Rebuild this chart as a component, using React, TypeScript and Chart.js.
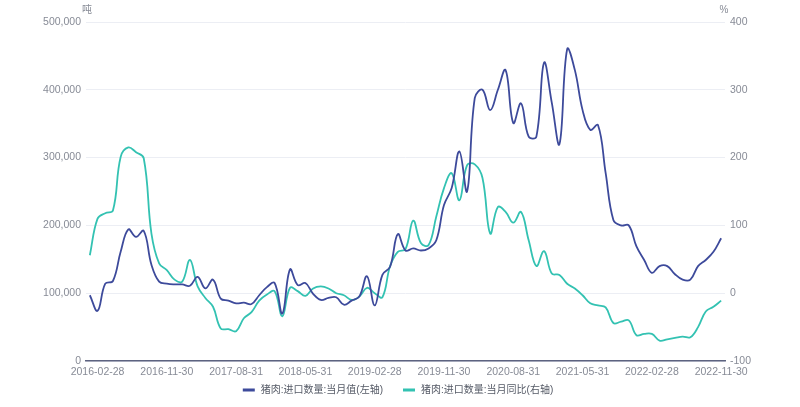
import React, { useEffect, useRef } from "react";
import { Chart, registerables } from "chart.js";

Chart.register(...registerables);

const categories: string[] = [
  "2016-01-31","2016-02-28","2016-03-31","2016-04-30","2016-05-31","2016-06-30","2016-07-31","2016-08-31","2016-09-30","2016-10-31","2016-11-30","2016-12-31",
  "2017-01-31","2017-02-28","2017-03-31","2017-04-30","2017-05-31","2017-06-30","2017-07-31","2017-08-31","2017-09-30","2017-10-31","2017-11-30","2017-12-31",
  "2018-01-31","2018-02-28","2018-03-31","2018-04-30","2018-05-31","2018-06-30","2018-07-31","2018-08-31","2018-09-30","2018-10-31","2018-11-30","2018-12-31",
  "2019-01-31","2019-02-28","2019-03-31","2019-04-30","2019-05-31","2019-06-30","2019-07-31","2019-08-31","2019-09-30","2019-10-31","2019-11-30","2019-12-31",
  "2020-01-31","2020-02-28","2020-03-31","2020-04-30","2020-05-31","2020-06-30","2020-07-31","2020-08-31","2020-09-30","2020-10-31","2020-11-30","2020-12-31",
  "2021-01-31","2021-02-28","2021-03-31","2021-04-30","2021-05-31","2021-06-30","2021-07-31","2021-08-31","2021-09-30","2021-10-31","2021-11-30","2021-12-31",
  "2022-01-31","2022-02-28","2022-03-31","2022-04-30","2022-05-31","2022-06-30","2022-07-31","2022-08-31","2022-09-30","2022-10-31","2022-11-30",
];

const shownTickLabels: string[] = [
  "2016-02-28","2016-11-30","2017-08-31","2018-05-31","2019-02-28",
  "2019-11-30","2020-08-31","2021-05-31","2022-02-28","2022-11-30",
];

const importVolume: number[] = [
  97000, 74000, 114000, 118000, 161000, 194000, 183000, 192000, 142000, 117000,
  114000, 113000, 113000, 111000, 124000, 107000, 120000, 92000, 89000, 85000,
  86000, 84000, 97000, 109000, 115000, 70000, 135000, 112000, 115000, 99000,
  90000, 93000, 94000, 83000, 89000, 95000, 125000, 82000, 127000, 139000,
  187000, 163000, 166000, 163000, 166000, 178000, 230000, 255000, 309000, 250000,
  388000, 400000, 370000, 400000, 429000, 351000, 380000, 331000, 331000, 440000,
  381000, 320000, 460000, 429000, 370000, 341000, 348000, 277000, 208000, 200000,
  200000, 169000, 149000, 130000, 140000, 140000, 128000, 120000, 120000, 140000,
  149000, 161000, 181000,
];

const importYoY: number[] = [
  56, 110, 118, 122, 201, 215, 208, 199, 88, 44,
  34, 20, 17, 49, 10, -7, -20, -52, -53, -56,
  -37, -28, -11, -2, 3, -34, 8, 3, -4, 7,
  10, 7, 0, -3, -10, -5, 8, 0, -6, 40,
  61, 65, 107, 74, 71, 113, 155, 177, 137, 189,
  190, 170, 88, 127, 120, 104, 120, 78, 40, 62,
  29, 27, 14, 7, -3, -15, -18, -21, -44, -42,
  -40, -62, -60, -60, -70, -68, -66, -64, -65, -50,
  -27, -20, -11,
];

const seriesNames = ["猪肉:进口数量:当月值(左轴)", "猪肉:进口数量:当月同比(右轴)"];
const seriesColors = ["#3d4a9b", "#33c2b2"];
const leftUnit = "吨";
const rightUnit = "%";

const TICK_COLOR = "#878b96";
const FONT = "'Liberation Sans', 'Noto Sans CJK SC', sans-serif";
const TICK_SIZE = 10.5;

export default function App() {
  const ref = useRef<HTMLCanvasElement | null>(null);

  useEffect(() => {
    if (!ref.current) return;
    const overlayPlugin = {
      id: "overlayText",
      afterDraw(chart: any) {
        const ctx = chart.ctx;
        const area = chart.chartArea;
        ctx.save();
        ctx.fillStyle = TICK_COLOR;
        ctx.font = `10px ${FONT}`;
        ctx.textAlign = "center";
        ctx.textBaseline = "middle";
        ctx.fillText(leftUnit, area.left + 1, 10);
        ctx.fillText(rightUnit, area.right - 1, 10);
        const boxW = 12;
        const boxGap = 6;
        const itemGap = 20;
        ctx.font = `10px ${FONT}`;
        const widths = seriesNames.map((n) => boxW + boxGap + ctx.measureText(n).width);
        const total = widths.reduce((a, b) => a + b, 0) + itemGap * (widths.length - 1);
        let x = 398 - total / 2;
        const y = 390;
        ctx.textAlign = "left";
        seriesNames.forEach((name, i) => {
          ctx.fillStyle = seriesColors[i];
          ctx.fillRect(x, y - 1.5, boxW, 3);
          ctx.fillStyle = "#555a66";
          ctx.fillText(name, x + boxW + boxGap, y);
          x += widths[i] + itemGap;
        });
        ctx.restore();
      },
    };

    const chart = new Chart(ref.current, {
      type: "line",
      data: {
        labels: categories,
        datasets: [
          {
            label: seriesNames[0],
            data: importVolume,
            borderColor: seriesColors[0],
            backgroundColor: seriesColors[0],
            borderWidth: 1.8,
            pointRadius: 0,
            tension: 0.4,
            yAxisID: "y",
          },
          {
            label: seriesNames[1],
            data: importYoY,
            borderColor: seriesColors[1],
            backgroundColor: seriesColors[1],
            borderWidth: 1.8,
            pointRadius: 0,
            tension: 0.4,
            yAxisID: "y1",
          },
        ],
      },
      options: {
        animation: false,
        responsive: false,
        maintainAspectRatio: false,
        layout: { padding: { top: 22, left: 0, right: 0, bottom: 26 } },
        plugins: {
          legend: { display: false },
          tooltip: { enabled: false },
        },
        scales: {
          x: {
            type: "category",
            offset: true,
            grid: { display: false, drawTicks: false },
            border: { display: true, color: "#5d6380", width: 1.5 },
            ticks: {
              autoSkip: false,
              maxRotation: 0,
              minRotation: 0,
              padding: 5,
              color: TICK_COLOR,
              font: { size: TICK_SIZE, family: FONT },
              callback: (_v: any, i: number) => {
                const lbl = categories[i];
                return shownTickLabels.includes(lbl) && (i - 1) % 9 === 0 ? lbl : "";
              },
            },
            afterFit: (s: any) => {
              s.height = 20;
            },
          },
          y: {
            position: "left",
            min: 0,
            max: 500000,
            grid: { color: "#eceef4", drawTicks: false },
            border: { display: false },
            ticks: {
              stepSize: 100000,
              padding: 5,
              color: TICK_COLOR,
              font: { size: TICK_SIZE, family: FONT },
              callback: (v: any) => Number(v).toLocaleString("en-US"),
            },
            afterFit: (s: any) => {
              s.width = 86;
            },
          },
          y1: {
            position: "right",
            min: -100,
            max: 400,
            grid: { display: false, drawTicks: false },
            border: { display: false },
            ticks: {
              stepSize: 100,
              padding: 5,
              color: TICK_COLOR,
              font: { size: TICK_SIZE, family: FONT },
            },
            afterFit: (s: any) => {
              s.width = 75;
            },
          },
        },
      },
      plugins: [overlayPlugin],
    });
    return () => chart.destroy();
  }, []);

  return (
    <div style={{ position: "fixed", left: 0, top: 0, width: 800, height: 407, background: "#fff" }}>
      <canvas ref={ref} width={800} height={407} style={{ width: 800, height: 407 }} />
    </div>
  );
}
